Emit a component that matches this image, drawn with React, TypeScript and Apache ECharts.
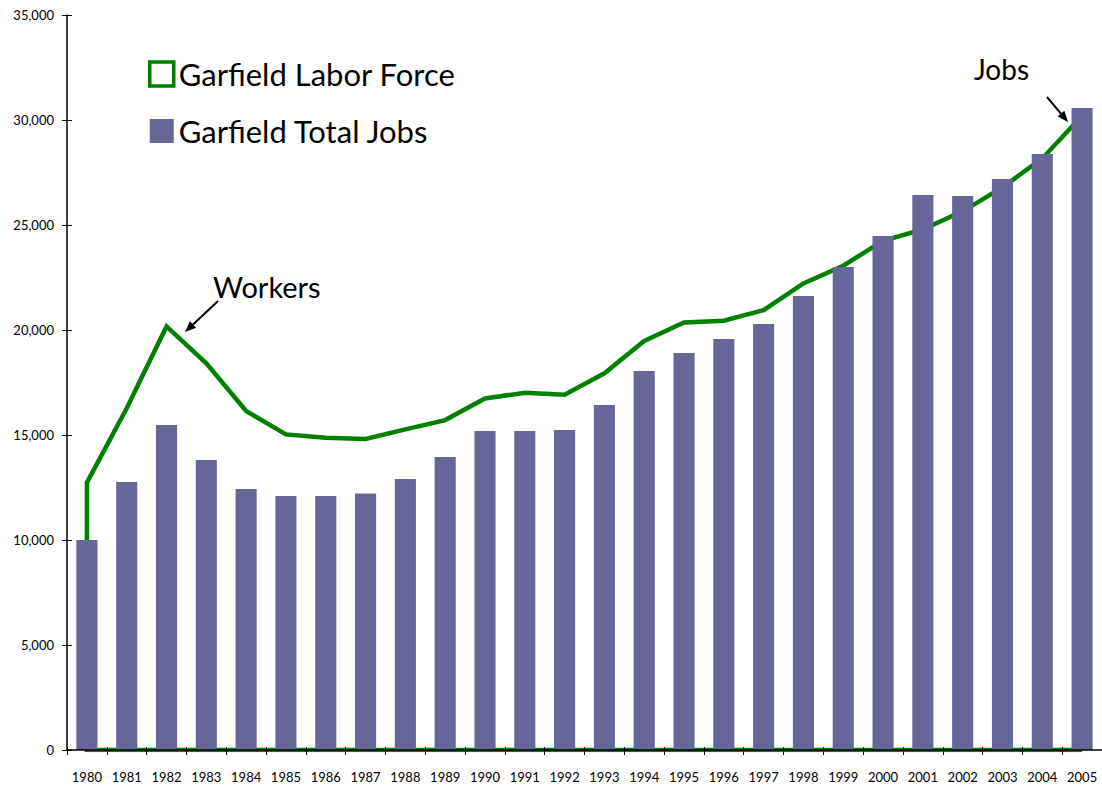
import React, { useEffect, useRef } from "react";
import * as echarts from "echarts";

const years: number[] = [
  1980, 1981, 1982, 1983, 1984, 1985, 1986, 1987, 1988, 1989, 1990, 1991, 1992,
  1993, 1994, 1995, 1996, 1997, 1998, 1999, 2000, 2001, 2002, 2003, 2004, 2005,
];
const totalJobs: number[] = [
  10000, 12760, 15480, 13810, 12430, 12100, 12100, 12210, 12900, 13950, 15190,
  15190, 15240, 16430, 18050, 18900, 19570, 20290, 21620, 23000, 24480, 26430,
  26380, 27190, 28380, 30570,
];
const laborForce: number[] = [
  12730, 16270, 20170, 18410, 16140, 15030, 14870, 14810, 15270, 15710, 16740,
  17010, 16920, 17940, 19480, 20360, 20440, 20950, 22220, 23060, 24250, 24790,
  25650, 26790, 28170, 30200,
];
const yTicks = { min: 0, max: 35000, interval: 5000 };
const seriesNames = ["Garfield Labor Force", "Garfield Total Jobs"];
const annotations = ["Workers", "Jobs"];

const FONT = 'Lato, "Open Sans", "DejaVu Sans", sans-serif';
const GREEN = "#008000";
const PURPLE = "#666699";

export default function App() {
  const ref = useRef<HTMLDivElement>(null);

  useEffect(() => {
    if (!ref.current) return;
    const chart = echarts.init(ref.current, undefined, { renderer: "svg" });
    const cats = years.map(String);
    const first = years[0];
    const last = years[years.length - 1];
    // Labor force line: runs along the baseline, then up at 1980 and across the years
    const lineData: number[][] = [
      [last, 0],
      [first, 0],
      ...years.map((y, i) => [y, laborForce[i]]),
    ];

    const arrow = (
      x1: number,
      y1: number,
      tx: number,
      ty: number,
      head = 11,
      half = 4.5
    ) => {
      const dx = tx - x1;
      const dy = ty - y1;
      const len = Math.sqrt(dx * dx + dy * dy);
      const ux = dx / len;
      const uy = dy / len;
      const bx = tx - head * ux;
      const by = ty - head * uy;
      const nx = -uy;
      const ny = ux;
      return [
        {
          type: "line",
          shape: { x1, y1, x2: bx, y2: by },
          style: { stroke: "#000", lineWidth: 2 },
          z: 100,
        },
        {
          type: "polygon",
          shape: {
            points: [
              [tx, ty],
              [bx + half * nx, by + half * ny],
              [bx - half * nx, by - half * ny],
            ],
          },
          style: { fill: "#000" },
          z: 100,
        },
      ];
    };

    chart.setOption({
      animation: false,
      backgroundColor: "#ffffff",
      textStyle: { fontFamily: FONT },
      grid: { left: 67, top: 15, width: 1036, height: 735, containLabel: false },
      legend: {
        show: true,
        orient: "vertical",
        left: 148,
        top: 58,
        padding: 0,
        itemWidth: 24,
        itemHeight: 24,
        itemGap: 25,
        selectedMode: false,
        textStyle: { fontSize: 31, color: "#000", fontFamily: FONT, lineHeight: 32 },
        data: [
          {
            name: seriesNames[0],
            icon: "rect",
            itemStyle: { color: "#ffffff", borderColor: GREEN, borderWidth: 3.5 },
          },
          {
            name: seriesNames[1],
            icon: "rect",
            itemStyle: { color: PURPLE, borderWidth: 0 },
          },
        ],
      },
      xAxis: [
        {
          type: "category",
          data: cats,
          position: "bottom",
          boundaryGap: true,
          z: 10,
          axisLine: { show: true, lineStyle: { color: "#000", width: 1.5 } },
          axisTick: { show: true, inside: false, length: 5, lineStyle: { color: "#000" } },
          axisLabel: {
            show: true,
            interval: 0,
            fontSize: 13,
            color: "#000",
            fontFamily: FONT,
            margin: 20,
          },
          splitLine: { show: false },
        },
        {
          type: "category",
          data: cats,
          position: "bottom",
          boundaryGap: true,
          z: 10,
          axisLine: { show: false },
          axisTick: { show: true, inside: true, length: 3, lineStyle: { color: "#000" } },
          axisLabel: { show: false },
          splitLine: { show: false },
        },
        {
          type: "value",
          min: first - 0.5,
          max: last + 0.5,
          show: false,
          splitLine: { show: false },
        },
      ],
      yAxis: [
        {
          type: "value",
          position: "left",
          min: yTicks.min,
          max: yTicks.max,
          interval: yTicks.interval,
          z: 10,
          axisLine: { show: true, lineStyle: { color: "#000", width: 1.5 } },
          axisTick: { show: true, inside: false, length: 5, lineStyle: { color: "#000" } },
          axisLabel: {
            show: true,
            fontSize: 13,
            color: "#000",
            fontFamily: FONT,
            margin: 13,
            formatter: (v: number) => v.toLocaleString("en-US"),
          },
          splitLine: { show: false },
        },
        {
          type: "value",
          position: "left",
          min: yTicks.min,
          max: yTicks.max,
          interval: yTicks.interval,
          z: 10,
          axisLine: { show: false },
          axisTick: { show: true, inside: true, length: 5, lineStyle: { color: "#000" } },
          axisLabel: { show: false },
          splitLine: { show: false },
        },
      ],
      series: [
        {
          name: seriesNames[0],
          type: "line",
          xAxisIndex: 2,
          yAxisIndex: 0,
          data: lineData,
          symbol: "none",
          z: 2,
          lineStyle: { color: GREEN, width: 4.5, join: "miter" },
          itemStyle: { color: GREEN },
        },
        {
          name: seriesNames[1],
          type: "bar",
          xAxisIndex: 0,
          yAxisIndex: 0,
          data: totalJobs,
          barWidth: "53%",
          z: 3,
          itemStyle: { color: PURPLE },
        },
      ],
      graphic: [
        {
          type: "text",
          z: 100,
          style: {
            x: 213,
            y: 286,
            text: annotations[0],
            font: `29px ${FONT}`,
            fill: "#000",
            textAlign: "left",
            textVerticalAlign: "middle",
          },
        },
        ...arrow(218, 301, 185, 332),
        {
          type: "text",
          z: 100,
          style: {
            x: 974,
            y: 69,
            text: annotations[1],
            font: `28px ${FONT}`,
            fill: "#000",
            textAlign: "left",
            textVerticalAlign: "middle",
          },
        },
        ...arrow(1047, 97, 1068, 122),
      ],
    });

    return () => chart.dispose();
  }, []);

  return (
    <div
      ref={ref}
      style={{ position: "fixed", left: 0, top: 0, width: 1102, height: 786 }}
    />
  );
}
